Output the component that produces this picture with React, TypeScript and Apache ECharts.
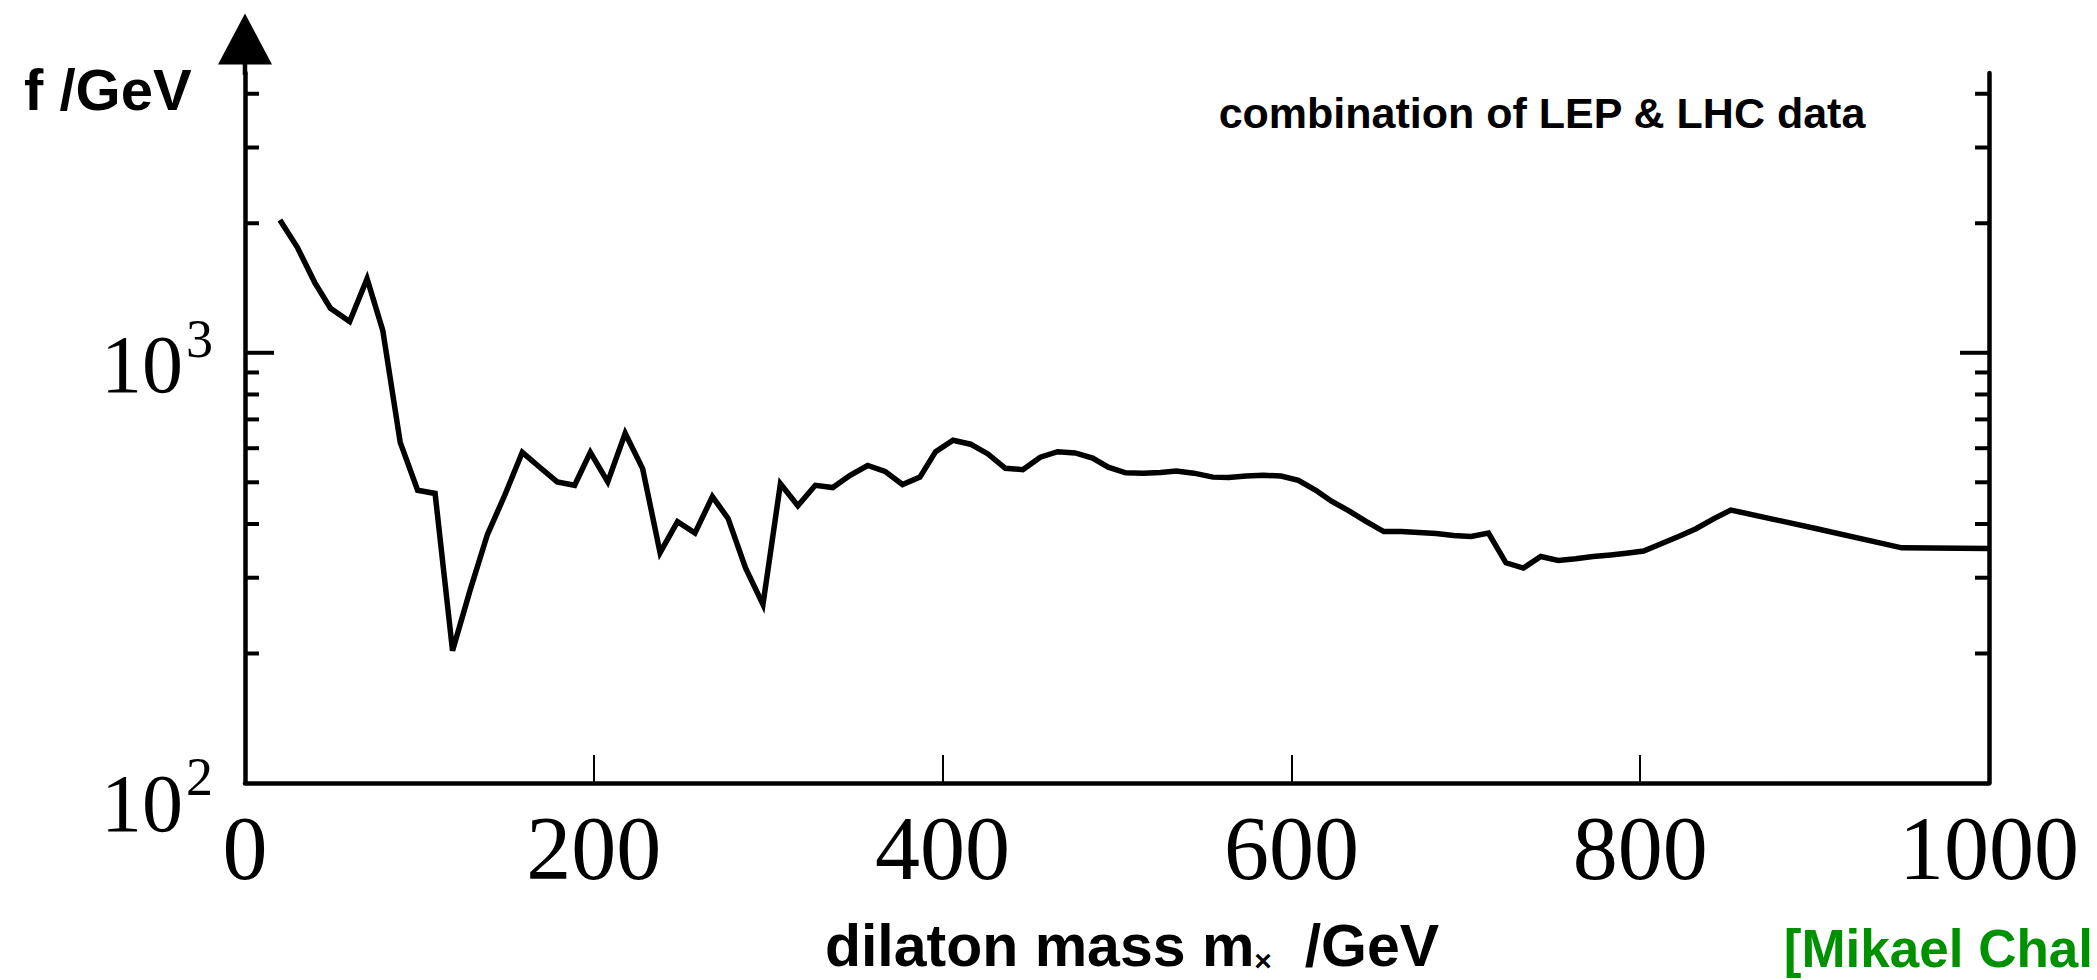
import React, { useEffect, useRef } from "react";
import * as echarts from "echarts";

// dilaton mass m_chi (GeV)
const MASS = [
  20, 30, 40, 49, 60, 70, 79, 89, 99, 109, 119, 129, 139, 149, 159, 169, 179, 189, 198, 208,
  218, 228, 238, 248, 258, 268, 277, 287, 297, 307, 317, 327, 337, 347, 357, 367, 377, 387,
  396, 406, 416, 426, 436, 446, 456, 466, 476, 486, 495, 505, 515, 525, 534, 544, 555, 564,
  574, 584, 594, 604, 614, 623, 633, 643, 653, 663, 673, 683, 693, 703, 713, 723, 733, 743,
  753, 763, 773, 783, 792, 802, 812, 822, 832, 842, 852, 900, 950, 1000,
];
// lower bound on f (GeV)
const F_LIMIT = [
  2036, 1759, 1456, 1269, 1182, 1487, 1127, 619, 479, 471, 203, 280, 378, 467, 587, 542, 501, 492, 587, 501,
  650, 538, 343, 405, 381, 463, 412, 316, 260, 496, 441, 492, 486, 519, 547, 530, 494, 514,
  589, 626, 613, 582, 539, 535, 572, 589, 585, 569, 542, 526, 525, 527, 531, 525, 514, 513,
  517, 519, 517, 505, 479, 452, 429, 405, 384, 384, 382, 380, 376, 374, 381, 325, 316, 336,
  329, 332, 336, 339, 342, 346, 360, 374, 390, 411, 431, 391, 352, 351,
];

const X_MIN = 0;
const X_MAX = 1000;
const X_INTERVAL = 200;
const Y_MIN = 100;
const Y_MAX = 4470;
const Y_MINOR_TICKS = [200, 300, 400, 500, 600, 700, 800, 900, 2000, 3000, 4000];
const Y_MAJOR_TICKS = [1000];
const Y_LABEL_TICKS = [100, 1000];

const TITLE = "combination of LEP & LHC data";
const Y_NAME = "f /GeV";
const X_NAME = "dilaton mass m{s|×}  /GeV";
const CREDIT = "[Mikael Chal";

const GRID_LEFT = 245;
const GRID_TOP = 73;
const GRID_RIGHT = 108;
const GRID_BOTTOM = 188;

export default function App() {
  const ref = useRef<HTMLDivElement>(null);

  useEffect(() => {
    if (!ref.current) return;
    const chart = echarts.init(ref.current, undefined, { renderer: "svg" });

    const lineData = MASS.map((m, i) => [m, F_LIMIT[i]]);
    const tickData = [
      ...Y_MINOR_TICKS.map((v) => [X_MIN, v, 0]),
      ...Y_MAJOR_TICKS.map((v) => [X_MIN, v, 1]),
    ];
    const labelData = Y_LABEL_TICKS.map((v) => [X_MIN, v]);

    const option: any = {
      animation: false,
      backgroundColor: "#ffffff",
      title: {
        text: TITLE,
        left: 1537,
        top: 86,
        textAlign: "center",
        textStyle: {
          fontSize: 43,
          fontWeight: "bold",
          fontFamily: "Liberation Sans",
          color: "#000",
        },
      },
      grid: {
        left: GRID_LEFT,
        top: GRID_TOP,
        right: GRID_RIGHT,
        bottom: GRID_BOTTOM,
        containLabel: false,
      },
      xAxis: {
        type: "value",
        min: X_MIN,
        max: X_MAX,
        interval: X_INTERVAL,
        name: X_NAME,
        nameLocation: "middle",
        nameGap: 133,
        nameTextStyle: {
          fontSize: 59,
          fontWeight: "bold",
          fontFamily: "Liberation Sans",
          color: "#000",
          padding: [0, 0, 0, 30],
          rich: {
            s: {
              fontSize: 30,
              fontWeight: "bold",
              fontFamily: "Liberation Sans",
              color: "#000",
              verticalAlign: "bottom",
            },
          },
        },
        axisLine: { show: true, onZero: false, lineStyle: { color: "#000", width: 4.5 } },
        axisTick: { show: true, inside: true, length: 28, lineStyle: { color: "#000", width: 2 } },
        axisLabel: {
          fontSize: 90,
          fontFamily: "Liberation Serif",
          color: "#000",
          margin: 20,
          formatter: (v: number) => String(v),
        },
        splitLine: { show: false },
      },
      yAxis: [
        {
          type: "log",
          logBase: 10,
          min: Y_MIN,
          max: Y_MAX,
          position: "left",
          axisLine: {
            show: true,
            lineStyle: { color: "#000", width: 4.5 },
            symbol: ["none", "triangle"],
            symbolSize: [54, 51],
            symbolOffset: [0, 34],
          },
          axisTick: { show: false },
          axisLabel: { show: false },
          splitLine: { show: false },
        },
        {
          type: "log",
          logBase: 10,
          min: Y_MIN,
          max: Y_MAX,
          position: "right",
          axisLine: { show: true, lineStyle: { color: "#000", width: 4.5 } },
          axisTick: { show: false },
          axisLabel: { show: false },
          splitLine: { show: false },
        },
      ],
      graphic: [
        {
          type: "line",
          shape: { x1: GRID_LEFT, y1: GRID_TOP - 12, x2: GRID_LEFT, y2: GRID_TOP + 2 },
          style: { stroke: "#000", lineWidth: 4.5 },
          silent: true,
        },
        {
          type: "text",
          left: 24,
          top: 60,
          style: {
            text: Y_NAME,
            fontSize: 58,
            fontWeight: "bold",
            fontFamily: "Liberation Sans",
            fill: "#000",
          },
        },
        {
          type: "text",
          right: 4,
          bottom: 2,
          style: {
            text: CREDIT,
            fontSize: 53,
            lineHeight: 60,
            fontWeight: "bold",
            fontFamily: "Liberation Sans",
            fill: "#009100",
          },
        },
      ],
      series: [
        {
          type: "custom",
          name: "yticks",
          silent: true,
          clip: false,
          data: tickData,
          encode: { x: 0, y: 1 },
          renderItem: (_params: any, api: any) => {
            const v = api.value(1);
            const major = api.value(2) === 1;
            const a = api.coord([X_MIN, v]);
            const b = api.coord([X_MAX, v]);
            const len = major ? 29 : 14;
            return {
              type: "group",
              children: [
                {
                  type: "line",
                  shape: { x1: a[0], y1: a[1], x2: a[0] + len, y2: a[1] },
                  style: { stroke: "#000", lineWidth: 4 },
                },
                {
                  type: "line",
                  shape: { x1: b[0], y1: b[1], x2: b[0] - len, y2: b[1] },
                  style: { stroke: "#000", lineWidth: 4 },
                },
              ],
            };
          },
        },
        {
          type: "custom",
          name: "ylabels",
          silent: true,
          clip: false,
          data: labelData,
          encode: { x: 0, y: 1 },
          renderItem: (_params: any, api: any) => {
            const v = api.value(1);
            const p = api.coord([X_MIN, v]);
            const exp = Math.round(Math.log10(v));
            const dy = exp <= 2 ? 20 : 12;
            return {
              type: "group",
              children: [
                {
                  type: "text",
                  x: p[0] - 62,
                  y: p[1] + dy,
                  style: {
                    text: "10",
                    fontSize: 82,
                    fontFamily: "Liberation Serif",
                    fill: "#000",
                    align: "right",
                    verticalAlign: "middle",
                  },
                },
                {
                  type: "text",
                  x: p[0] - 59,
                  y: p[1] + dy - 26,
                  style: {
                    text: String(exp),
                    fontSize: 54,
                    fontFamily: "Liberation Serif",
                    fill: "#000",
                    align: "left",
                    verticalAlign: "middle",
                  },
                },
              ],
            };
          },
        },
        {
          type: "line",
          name: "f limit",
          data: lineData,
          showSymbol: false,
          symbol: "none",
          z: 5,
          lineStyle: { color: "#000", width: 5.5, join: "miter", cap: "butt" },
        },
      ],
    };

    chart.setOption(option);
    return () => chart.dispose();
  }, []);

  return (
    <div
      ref={ref}
      style={{ position: "fixed", left: 0, top: 0, width: 2097, height: 980, background: "#fff" }}
    />
  );
}
